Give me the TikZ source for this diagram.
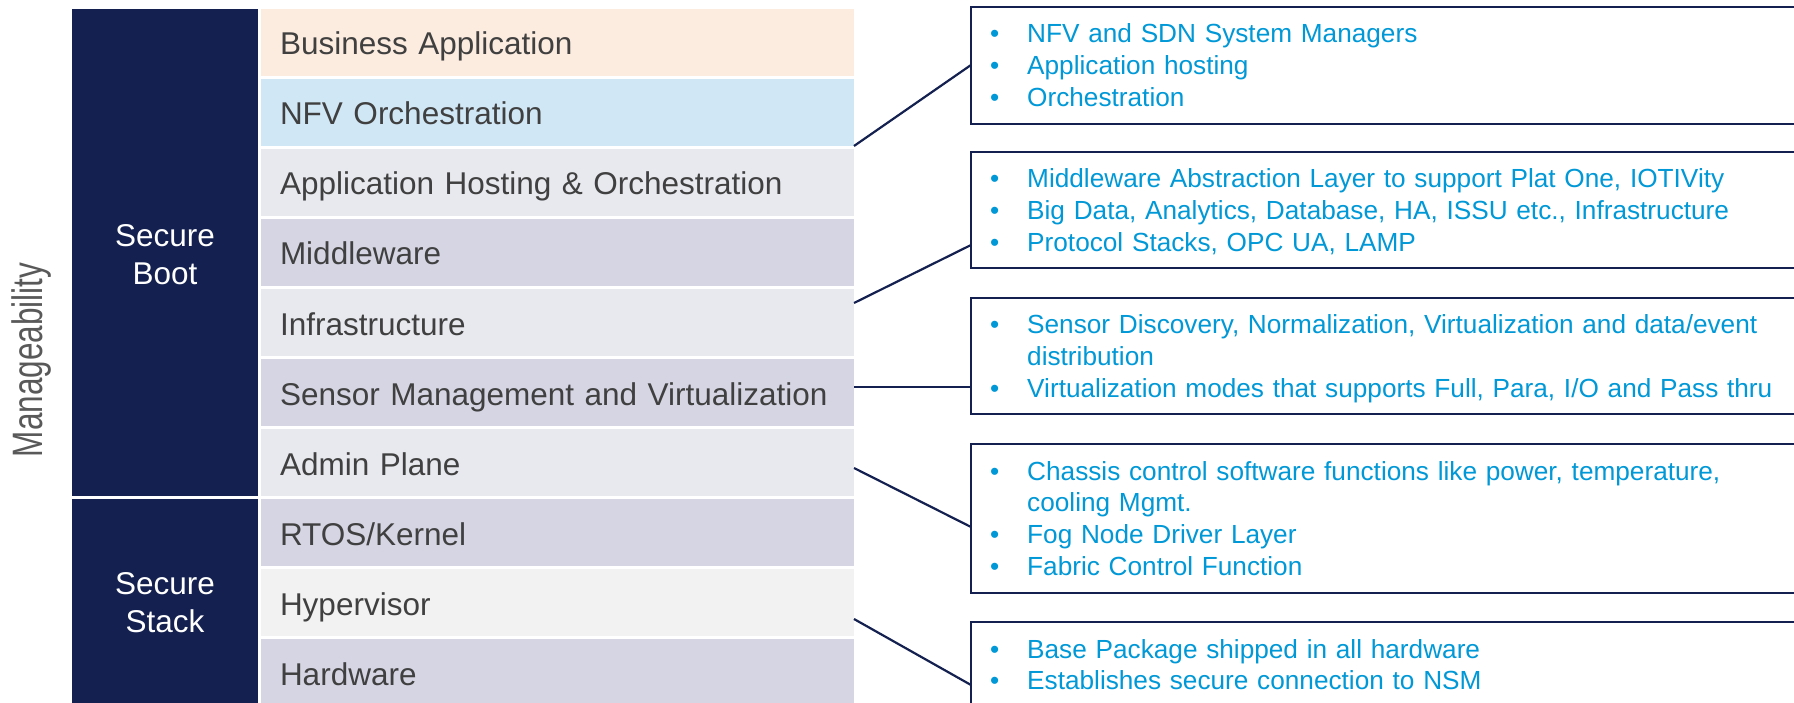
\documentclass[tikz,border=0pt]{standalone}
\usepackage{fontspec}
\setmainfont{Liberation Sans}
\usetikzlibrary{calc}

\definecolor{navy}{RGB}{20,33,80}
\definecolor{rowtext}{RGB}{64,64,64}
\definecolor{sidetext}{RGB}{89,89,89}
\definecolor{infotext}{RGB}{0,152,214}
\definecolor{peach}{RGB}{252,235,223}
\definecolor{skyblue}{RGB}{208,231,245}
\definecolor{palegray}{RGB}{232,233,239}
\definecolor{lavender}{RGB}{214,213,228}
\definecolor{lightgray}{RGB}{242,242,242}

\newcommand{\rowfont}{\fontsize{31.5pt}{38pt}\selectfont}
\newcommand{\infofont}{\fontsize{26.2pt}{31.7pt}\selectfont}
\newcommand{\itm}[1]{\hangindent=37pt\hangafter=1\makebox[37pt][l]{•}#1\par}

\begin{document}
\begin{tikzpicture}[x=1pt, y=-1pt,
  layer/.style={anchor=north west, minimum width=593pt, minimum height=67pt,
    text width=555pt, inner xsep=19pt, inner ysep=0pt, outer sep=0pt,
    text height=25pt, text depth=0pt, align=left, font=\rowfont, text=rowtext},
  darkcol/.style={anchor=north west, fill=navy, minimum width=186pt,
    inner sep=0pt, outer sep=0pt, align=center, font=\rowfont, text=white},
  infobox/.style={anchor=north west, draw=navy, line width=2.5pt,
    minimum width=840pt, inner sep=0pt, outer sep=0pt},
  infolist/.style={anchor=base west, text width=900pt, inner sep=0pt,
    align=left, font=\infofont, text=infotext},
  conn/.style={draw=navy, line width=2.2pt}]

\useasboundingbox (0,0) rectangle (1794,703);
\clip (0,0) rectangle (1794,703);

% side label
\node[rotate=90, anchor=base, inner sep=0pt, font=\rowfont, text=sidetext]
  (manage) at (42,360) {\scalebox{1}[1.35]{Manageability}};

% security columns
\node[darkcol, minimum height=487pt] (boot)  at (72,9)   {\rule{0pt}{27pt}Secure\\Boot};
\node[darkcol, minimum height=207pt] (stack) at (72,499) {Secure\\Stack};

% software layers
\node[layer, fill=peach]     (biz)    at (261,9)   {Business Application};
\node[layer, fill=skyblue]   (nfv)    at (261,79)  {NFV Orchestration};
\node[layer, fill=palegray]  (aho)    at (261,149) {Application Hosting \& Orchestration};
\node[layer, fill=lavender]  (mid)    at (261,219) {Middleware};
\node[layer, fill=palegray]  (infra)  at (261,289) {Infrastructure};
\node[layer, fill=lavender]  (sensor) at (261,359) {Sensor Management and Virtualization};
\node[layer, fill=palegray]  (admin)  at (261,429) {Admin Plane};
\node[layer, fill=lavender]  (rtos)   at (261,499) {RTOS/Kernel};
\node[layer, fill=lightgray] (hyp)    at (261,569) {Hypervisor};
\node[layer, fill=lavender]  (hw)     at (261,639) {Hardware};

% description boxes
\node[infobox, minimum height=117pt] (box1) at (971,7)   {};
\node[infobox, minimum height=116pt] (box2) at (971,152) {};
\node[infobox, minimum height=116pt] (box3) at (971,298) {};
\node[infobox, minimum height=149pt] (box4) at (971,444) {};
\node[infobox, minimum height=150pt] (box5) at (971,622) {};

\node[infolist] (list1) at ($(box1.north west)+(19,36)$) {%
  \itm{NFV and SDN System Managers}%
  \itm{Application hosting}%
  \itm{Orchestration}};
\node[infolist] (list2) at ($(box2.north west)+(19,36)$) {%
  \itm{Middleware Abstraction Layer to support Plat One, IOTIVity}%
  \itm{Big Data, Analytics, Database, HA, ISSU etc., Infrastructure}%
  \itm{Protocol Stacks, OPC UA, LAMP}};
\node[infolist] (list3) at ($(box3.north west)+(19,36)$) {%
  \itm{Sensor Discovery, Normalization, Virtualization and data/event\newline distribution}%
  \itm{Virtualization modes that supports Full, Para, I/O and Pass thru}};
\node[infolist] (list4) at ($(box4.north west)+(19,36)$) {%
  \itm{Chassis control software functions like power, temperature,\newline cooling Mgmt.}%
  \itm{Fog Node Driver Layer}%
  \itm{Fabric Control Function}};
\node[infolist] (list5) at ($(box5.north west)+(19,36)$) {%
  \itm{Base Package shipped in all hardware}%
  \itm{Establishes secure connection to NSM}};

% leader lines from layers to boxes
\draw[conn] (nfv.south east) -- ($(box1.north west)+(0,58)$);
\draw[conn] ($(infra.north east)+(0,14)$) -- ($(box2.north west)+(0,93)$);
\draw[conn] ($(sensor.north east)+(0,28)$) -- ($(box3.north west)+(0,89)$);
\draw[conn] ($(admin.north east)+(0,39)$) -- ($(box4.north west)+(0,83)$);
\draw[conn] ($(hyp.north east)+(0,50)$) -- ($(box5.north west)+(0,63)$);
\end{tikzpicture}
\end{document}
